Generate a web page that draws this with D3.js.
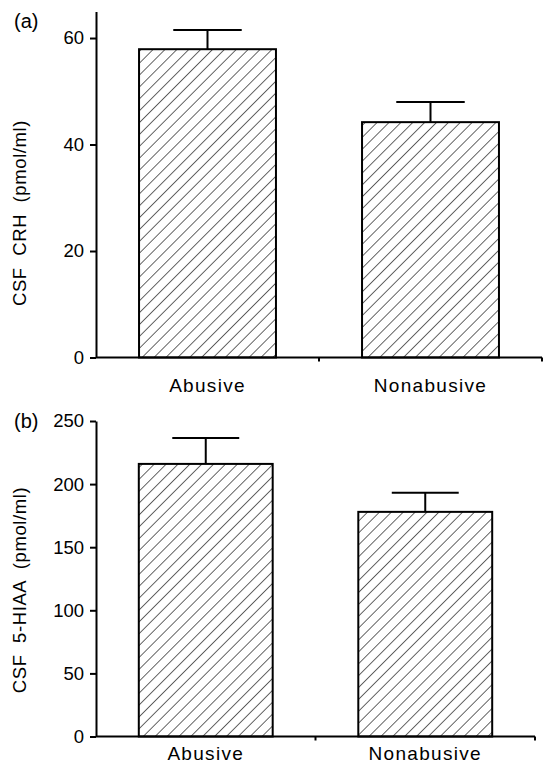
<!DOCTYPE html>
<html>
<head>
<meta charset="utf-8">
<script src="https://cdn.jsdelivr.net/npm/d3@7"></script>
<style>
  body { margin: 0; background: #fff; }
  svg { display: block; }
  text { font-family: "Liberation Sans", Arial, Helvetica, sans-serif; fill: #000; }
</style>
</head>
<body>
<div id="chart"></div>
<script>
// groups on the x axis
const groups = ["Abusive", "Nonabusive"];

// panel (a) CSF CRH
const crhMeans = [57.9, 44.2];
const crhSem = [3.6, 3.8];
const crhTicks = [0, 20, 40, 60];

// panel (b) CSF 5-HIAA
const hiaaMeans = [216, 178];
const hiaaSem = [20.6, 15.2];
const hiaaTicks = [0, 50, 100, 150, 200, 250];

const W = 543, H = 768;

const svg = d3.select("#chart").append("svg")
  .attr("width", W)
  .attr("height", H);

// hatch fill
svg.append("defs").append("pattern")
  .attr("id", "hatch")
  .attr("patternUnits", "userSpaceOnUse")
  .attr("width", 8.4)
  .attr("height", 8.4)
  .attr("patternTransform", "rotate(45)")
  .append("line")
    .attr("x1", 0).attr("y1", 0)
    .attr("x2", 0).attr("y2", 8.4)
    .attr("stroke", "#000")
    .attr("stroke-width", 1.2);

function drawPanel(p) {
  const g = svg.append("g");

  const x = d3.scaleBand()
    .domain(groups)
    .range([96, p.xEnd])
    .paddingInner(p.pad)
    .paddingOuter(p.pad / 2);

  const y = d3.scaleLinear()
    .domain([0, p.yMax])
    .range([p.yBottom, p.yTop]);

  const data = groups.map((d, i) => ({ name: d, mean: p.means[i], sem: p.sem[i] }));

  // bars
  g.selectAll(".bar")
    .data(data)
    .join("rect")
      .attr("class", "bar")
      .attr("x", d => x(d.name))
      .attr("y", d => y(d.mean))
      .attr("width", x.bandwidth())
      .attr("height", d => y(0) - y(d.mean))
      .attr("fill", "url(#hatch)")
      .attr("stroke", "#000")
      .attr("stroke-width", 2);

  // error bars, only upward
  const capW = x.bandwidth() * 0.5;
  g.selectAll(".err")
    .data(data)
    .join("line")
      .attr("x1", d => x(d.name) + x.bandwidth() / 2)
      .attr("x2", d => x(d.name) + x.bandwidth() / 2)
      .attr("y1", d => y(d.mean))
      .attr("y2", d => y(d.mean + d.sem))
      .attr("stroke", "#000")
      .attr("stroke-width", 2);
  g.selectAll(".cap")
    .data(data)
    .join("line")
      .attr("x1", d => x(d.name) + x.bandwidth() / 2 - capW / 2)
      .attr("x2", d => x(d.name) + x.bandwidth() / 2 + capW / 2)
      .attr("y1", d => y(d.mean + d.sem))
      .attr("y2", d => y(d.mean + d.sem))
      .attr("stroke", "#000")
      .attr("stroke-width", 2);

  // y axis
  const yAxis = g.append("g")
    .attr("transform", "translate(96,0)")
    .call(d3.axisLeft(y).tickValues(p.ticks).tickSize(6).tickSizeOuter(0).tickPadding(6));
  yAxis.select(".domain").attr("stroke-width", 2);
  yAxis.selectAll(".tick line").attr("stroke-width", 2);
  yAxis.selectAll(".tick text")
    .attr("font-size", 18.5)
    .attr("font-family", "Liberation Sans, Arial, sans-serif")
    .attr("fill", "#000");

  // x axis baseline with separator ticks
  g.append("line")
    .attr("x1", 96).attr("x2", p.xEnd)
    .attr("y1", y(0)).attr("y2", y(0))
    .attr("stroke", "#000").attr("stroke-width", 2);
  const seps = [x.range()[0] + x.step(), p.xEnd];
  g.selectAll(".sep")
    .data(seps)
    .join("line")
      .attr("x1", d => d).attr("x2", d => d)
      .attr("y1", y(0)).attr("y2", y(0) + 4)
      .attr("stroke", "#000").attr("stroke-width", 2);

  // category labels
  g.selectAll(".cat")
    .data(groups)
    .join("text")
      .attr("x", d => x(d) + x.bandwidth() / 2)
      .attr("y", y(0) + p.labelGap)
      .attr("text-anchor", "middle")
      .attr("font-size", 19)
      .attr("letter-spacing", 1.3)
      .text(d => d);

  // y axis title
  g.append("text")
    .attr("transform", `translate(${p.titleX},${p.titleY}) rotate(-90)`)
    .attr("text-anchor", "middle")
    .attr("font-size", 18.5)
    .attr("letter-spacing", 0.6)
    .style("white-space", "pre")
    .text(p.title);

  // panel letter
  g.append("text")
    .attr("x", 14)
    .attr("y", p.letterY)
    .attr("font-size", 20)
    .text(p.letter);
}

drawPanel({
  letter: "(a)", letterY: 28,
  means: crhMeans, sem: crhSem, ticks: crhTicks,
  yMax: 65, yBottom: 357.5, yTop: 11.4,
  xEnd: 542, pad: 0.386,
  labelGap: 34,
  title: "CSF  CRH  (pmol/ml)", titleX: 26, titleY: 213
});

drawPanel({
  letter: "(b)", letterY: 428,
  means: hiaaMeans, sem: hiaaSem, ticks: hiaaTicks,
  yMax: 250, yBottom: 736.5, yTop: 421,
  xEnd: 535, pad: 0.39,
  labelGap: 23,
  title: "CSF  5-HIAA  (pmol/ml)", titleX: 26, titleY: 590
});
</script>
</body>
</html>
